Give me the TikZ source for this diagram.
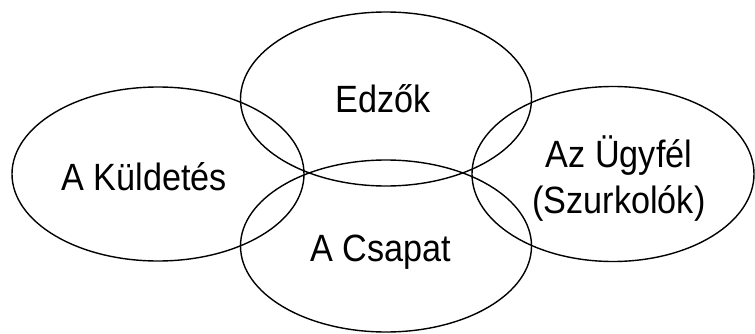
\documentclass[tikz,border=0pt]{standalone}
\usepackage{fontspec}
\setmainfont{Liberation Sans}
\usetikzlibrary{shapes.geometric}
\newcommand{\narrowtxt}[1]{\scalebox{0.9}[1]{#1}}
\begin{document}
\begin{tikzpicture}[x=1pt,y=1pt,
  oval/.style={ellipse, draw=black, line width=1.4pt, inner sep=0pt, minimum width=#1},
  lbl/.style={font=\fontsize{38}{46}\selectfont, inner sep=0pt, anchor=base}]
\useasboundingbox (0,0) rectangle (755,333);
\node[oval=292pt, minimum height=174pt] (mission) at (158,159) {};
\node[oval=291pt, minimum height=174pt] (coaches) at (386,234) {};
\node[oval=291pt, minimum height=172pt] (team) at (386,87) {};
\node[oval=282pt, minimum height=175pt] (client) at (613,159) {};
\node[lbl] (tmission) at (144,143) {\narrowtxt{A Küldetés}};
\node[lbl] (tcoaches) at (383,221) {\narrowtxt{Edzők}};
\node[lbl] (tteam) at (381,72) {\narrowtxt{A Csapat}};
\node[lbl] (tclient) at (619,166) {\narrowtxt{\begin{tabular}[t]{@{}c@{}}Az Ügyfél\\(Szurkolók)\end{tabular}}};
\end{tikzpicture}
\end{document}
